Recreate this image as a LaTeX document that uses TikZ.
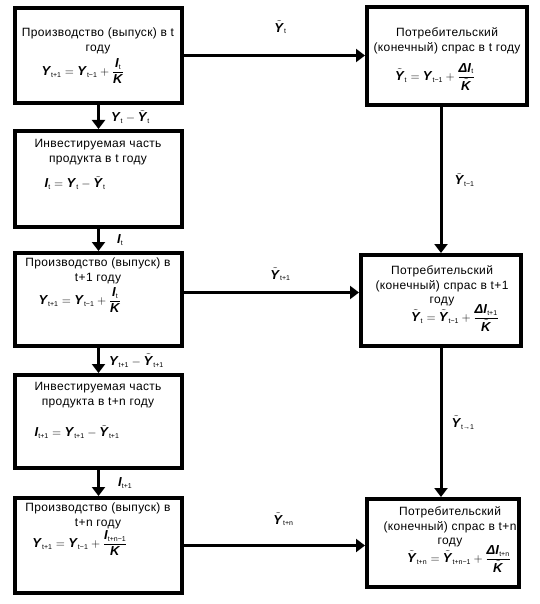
\documentclass[tikz,border=0pt]{standalone}
\usepackage{fontspec}
\setmainfont{Liberation Sans}
\newfontfamily\bodyfont[LetterSpace=3]{Liberation Sans}
\usepackage{amsmath}
\usetikzlibrary{arrows.meta}
\newcommand\vv[1]{\textbf{\textit{#1}}}
\newcommand\sub[1]{\mbox{\fontsize{7}{7}\selectfont #1}}
\begin{document}
\begin{tikzpicture}[x=1pt,y=-1pt,
  box/.style={draw, line width=4pt, inner sep=0pt},
  conn/.style={line width=3pt, -{Triangle[length=9pt,width=13pt]}},
  lbl/.style={inner sep=0pt, font=\fontsize{13}{15}\selectfont},
  txt/.style={align=center, inner sep=0pt, font=\bodyfont\fontsize{12}{14.5}\selectfont},
  eqn/.style={inner sep=0pt, font=\fontsize{13}{15}\selectfont}]
\useasboundingbox (0,0) rectangle (539,604);
% left column boxes
\node[box, minimum width=167pt, minimum height=95pt] (b1) at (98.5,55.5) {};
\node[box, minimum width=167pt, minimum height=96pt] (b2) at (98.5,179) {};
\node[box, minimum width=167pt, minimum height=93pt] (b3) at (98.5,299.5) {};
\node[box, minimum width=167pt, minimum height=93pt] (b4) at (98.5,421.5) {};
\node[box, minimum width=167pt, minimum height=95pt] (b5) at (98.5,545.5) {};
% right column boxes
\node[box, minimum width=160pt, minimum height=98pt] (r1) at (447,56) {};
\node[box, minimum width=160pt, minimum height=91pt] (r2) at (441,300.5) {};
\node[box, minimum width=152pt, minimum height=88pt] (r3) at (443,543) {};
% texts left
\node[txt] (t1) at (98,41) {Производство (выпуск) в t\\году};
\node[eqn] (e1) at (83,71) {$\vv{Y}_{\sub{t+1}}=\vv{Y}_{\sub{t−1}}+\dfrac{\vv{I}_{\sub{t}}}{\vv{K}}$};
\node[txt] (t2) at (98,152) {Инвестируемая часть\\продукта в t году};
\node[eqn] (e2) at (75,183) {$\vv{I}_{\sub{t}}=\vv{Y}_{\sub{t}}-\tilde{\vv{Y}}_{\sub{t}}$};
\node[txt] (t3) at (98,271) {Производство (выпуск) в\\t+1 году};
\node[eqn] (e3) at (80,300) {$\vv{Y}_{\sub{t+1}}=\vv{Y}_{\sub{t−1}}+\dfrac{\vv{I}_{\sub{t}}}{\vv{K}}$};
\node[txt] (t4) at (98,395) {Инвестируемая часть\\продукта в t+n году};
\node[eqn] (e4) at (77,432) {$\vv{I}_{\sub{t+1}}=\vv{Y}_{\sub{t+1}}-\tilde{\vv{Y}}_{\sub{t+1}}$};
\node[txt] (t5) at (98,516) {Производство (выпуск) в\\t+n году};
\node[eqn] (e5) at (80,543) {$\vv{Y}_{\sub{t+1}}=\vv{Y}_{\sub{t−1}}+\dfrac{\vv{I}_{\sub{t+n−1}}}{\vv{K}}$};
% texts right
\node[txt] (u1) at (447,41) {Потребительский\\(конечный) спрас в t году};
\node[eqn] (f1) at (435,77) {$\tilde{\vv{Y}}_{\sub{t}}=\vv{Y}_{\sub{t−1}}+\dfrac{\vv{ΔI}_{\sub{t}}}{\tilde{\vv{K}}}$};
\node[txt] (u2) at (442,286) {Потребительский\\(конечный) спрас в t+1\\году};
\node[eqn] (f2) at (455,318) {$\tilde{\vv{Y}}_{\sub{t}}=\tilde{\vv{Y}}_{\sub{t−1}}+\dfrac{\vv{ΔI}_{\sub{t+1}}}{\tilde{\vv{K}}}$};
\node[txt] (u3) at (450,527) {Потребительский\\(конечный) спрас в t+n\\году};
\node[eqn] (f3) at (459,559) {$\tilde{\vv{Y}}_{\sub{t+n}}=\tilde{\vv{Y}}_{\sub{t+n−1}}+\dfrac{\vv{ΔI}_{\sub{t+n}}}{\tilde{\vv{K}}}$};
% vertical connectors left
\draw[conn] (b1.south) -- node[lbl, right=11pt] {$\vv{Y}_{\sub{t}}-\tilde{\vv{Y}}_{\sub{t}}$} (b2.north);
\draw[conn] (b2.south) -- node[lbl, right=17pt] {$\vv{I}_{\sub{t}}$} (b3.north);
\draw[conn] (b3.south) -- node[lbl, right=9pt] {$\vv{Y}_{\sub{t+1}}-\tilde{\vv{Y}}_{\sub{t+1}}$} (b4.north);
\draw[conn] (b4.south) -- node[lbl, right=18pt] {$\vv{I}_{\sub{t+1}}$} (b5.north);
% horizontal connectors
\draw[conn] (b1.east) -- node[lbl, above=20pt, xshift=6pt] {$\tilde{\vv{Y}}_{\sub{t}}$} (b1.east -| r1.west);
\draw[conn] ([yshift=7pt]b3.east) -- node[lbl, above=10pt, xshift=9pt] {$\tilde{\vv{Y}}_{\sub{t+1}}$} ([yshift=7pt]b3.east -| r2.west);
\draw[conn] (b5.east) -- node[lbl, above=18pt, xshift=9pt] {$\tilde{\vv{Y}}_{\sub{t+n}}$} (b5.east -| r3.west);
% vertical connectors right
\draw[conn] (r2.north |- r1.south) -- node[lbl, right=12pt] {$\tilde{\vv{Y}}_{\sub{t−1}}$} (r2.north);
\draw[conn] (r2.south) -- node[lbl, right=9pt] {$\tilde{\vv{Y}}_{\sub{t→1}}$} (r2.south |- r3.north);
\end{tikzpicture}
\end{document}
